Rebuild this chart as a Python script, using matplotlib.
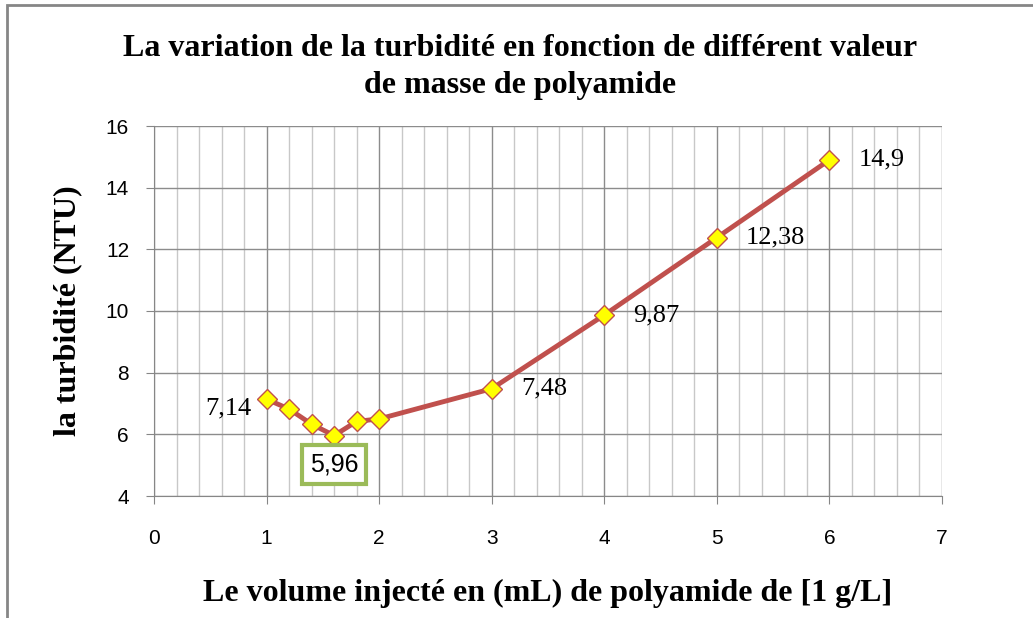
import matplotlib
matplotlib.use("Agg")
import matplotlib.pyplot as plt
from matplotlib.ticker import MultipleLocator
from matplotlib.patches import Rectangle

# data
volume_ml = [1, 1.2, 1.4, 1.6, 1.8, 2, 3, 4, 5, 6]
turbidite = [7.14, 6.82, 6.33, 5.96, 6.42, 6.5, 7.48, 9.87, 12.38, 14.9]
labelled = {0: "7,14", 3: "5,96", 6: "7,48", 7: "9,87", 8: "12,38", 9: "14,9"}

serif = "Liberation Serif"
sans = "Liberation Sans"

fig = plt.figure(figsize=(10.33, 6.18), dpi=100)
ax = fig.add_axes([154 / 1033, 1 - 496 / 618, (942 - 154) / 1033, (496 - 126) / 618])

# outer frame of the chart area
fig.patches.append(Rectangle((7 / 1033, -0.05), 1.05, 1.05 - 5 / 618,
                             transform=fig.transFigure, fill=False,
                             edgecolor="#868686", linewidth=2))

ax.plot(volume_ml, turbidite, color="#c0504d", linewidth=3.5, zorder=3,
        marker="D", markersize=10, markerfacecolor="#ffff00",
        markeredgecolor="#c0504d", markeredgewidth=1)

ax.set_xlim(0, 7)
ax.set_ylim(4, 16)
ax.xaxis.set_major_locator(MultipleLocator(1))
ax.xaxis.set_minor_locator(MultipleLocator(0.2))
ax.yaxis.set_major_locator(MultipleLocator(2))

ax.grid(which="major", color="#8c8c8c", linewidth=1)
ax.grid(which="minor", axis="x", color="#c8c8c8", linewidth=1)
ax.set_axisbelow(True)
for side in ["top", "right"]:
    ax.spines[side].set_visible(False)
for side in ["left", "bottom"]:
    ax.spines[side].set_color("#868686")
ax.tick_params(which="major", color="#868686", length=6, labelsize=15, pad=18)
ax.tick_params(axis="y", pad=12)
ax.tick_params(which="minor", length=0)
for lbl in ax.get_xticklabels() + ax.get_yticklabels():
    lbl.set_fontfamily(sans)

for i, txt in labelled.items():
    x, y = volume_ml[i], turbidite[i]
    if i == 0:
        ax.annotate(txt, (x, y), xytext=(-11, -7), textcoords="offset points",
                    ha="right", va="center", fontsize=19, family=serif)
    elif i == 3:
        ax.annotate(txt, (x, y), xytext=(0, -21), textcoords="offset points",
                    ha="center", va="center", fontsize=18, family=sans,
                    bbox=dict(boxstyle="square,pad=0.3", facecolor="white",
                              edgecolor="#9bbb59", linewidth=3))
    else:
        ax.annotate(txt, (x, y), xytext=(21, 0), textcoords="offset points",
                    ha="left", va="center", fontsize=19, family=serif)

fig.text(0.503, 1 - 48 / 618, "La variation de la turbidité en fonction de différent valeur",
         ha="center", va="center", fontsize=23, fontweight="bold", family=serif)
fig.text(0.503, 1 - 86 / 618, "de masse de polyamide",
         ha="center", va="center", fontsize=23, fontweight="bold", family=serif)
ax.set_xlabel("Le volume injecté en (mL) de polyamide de [1 g/L]", fontsize=23,
              fontweight="bold", family=serif, labelpad=22)
ax.set_ylabel("la turbidité (NTU)", fontsize=23, fontweight="bold",
              family=serif, labelpad=17)

fig.savefig("out.png", dpi=100)
